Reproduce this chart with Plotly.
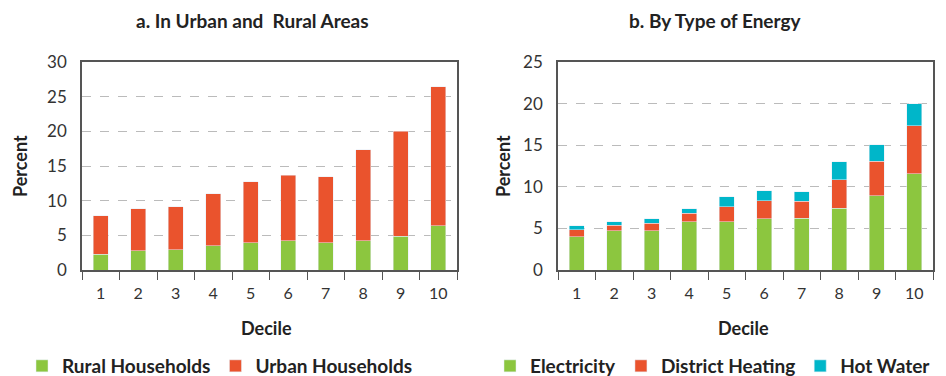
import plotly.graph_objects as go

deciles = ["1", "2", "3", "4", "5", "6", "7", "8", "9", "10"]

# panel a: urban / rural
rural = [2.3, 2.75, 2.9, 3.5, 3.9, 4.2, 3.9, 4.2, 4.9, 6.35]
urban = [5.5, 6.05, 6.2, 7.5, 8.8, 9.5, 9.55, 13.15, 15.1, 20.1]

# panel b: by type of energy
electricity = [4.0, 4.7, 4.7, 5.8, 5.8, 6.15, 6.25, 7.45, 8.9, 11.55]
district_heating = [0.85, 0.7, 0.9, 1.0, 1.8, 2.15, 2.0, 3.4, 4.2, 5.8]
hot_water = [0.45, 0.4, 0.55, 0.55, 1.2, 1.2, 1.15, 2.15, 1.95, 2.65]

GREEN = "#8CC63F"
RED = "#EA532D"
CYAN = "#00B6C9"
FONT = "Lato"

fig = go.Figure()

fig.add_trace(go.Bar(x=deciles, y=rural, name="<b>Rural Households</b>", marker_color=GREEN,
                     width=0.4, xaxis="x", yaxis="y", legend="legend"))
fig.add_trace(go.Bar(x=deciles, y=urban, name="<b>Urban Households</b>", marker_color=RED,
                     width=0.4, xaxis="x", yaxis="y", legend="legend"))

fig.add_trace(go.Bar(x=deciles, y=electricity, name="<b>Electricity</b>", marker_color=GREEN,
                     width=0.4, xaxis="x2", yaxis="y2", legend="legend2"))
fig.add_trace(go.Bar(x=deciles, y=district_heating, name="<b>District Heating</b>", marker_color=RED,
                     width=0.4, xaxis="x2", yaxis="y2", legend="legend2"))
fig.add_trace(go.Bar(x=deciles, y=hot_water, name="<b>Hot Water</b>", marker_color=CYAN,
                     width=0.4, xaxis="x2", yaxis="y2", legend="legend2"))

# the page body keeps its default 8px margin, so the figure is 8px smaller
OFF = 8
W, H = 946 - OFF, 376 - OFF

def px(x):
    return (x - OFF) / W

def py(y):
    return 1 - (y - OFF) / H

y_dom = [py(270), py(62)]

xaxis_common = dict(
    showline=True, linecolor="#555", linewidth=1.5, mirror=True,
    ticks="outside", tickson="boundaries", ticklen=8, tickcolor="#555",
    tickfont=dict(family=FONT, size=16, color="#333"),
    ticklabelstandoff=8,
    showgrid=False, automargin=False,
)
yaxis_common = dict(
    showline=True, linecolor="#555", linewidth=1.5, mirror=True,
    ticks="", tickfont=dict(family=FONT, size=17, color="#333"),
    ticklabelstandoff=10,
    showgrid=True, gridcolor="#bbbbbb", griddash="dash", gridwidth=1,
    zeroline=False, automargin=False,
)

def text(s, x, y, size=19, angle=0):
    return dict(text=s, x=px(x), y=py(y), xref="paper", yref="paper",
                xanchor="center", yanchor="middle", showarrow=False, textangle=angle,
                font=dict(family=FONT, size=size, color="#222"))

fig.update_layout(
    width=W, height=H,
    margin=dict(l=0, r=0, t=0, b=0, autoexpand=False),
    paper_bgcolor="white", plot_bgcolor="white",
    barmode="stack", bargap=0.6,
    font=dict(family=FONT, color="#222"),
    xaxis=dict(domain=[px(82), px(457)], anchor="y", **xaxis_common),
    yaxis=dict(domain=y_dom, anchor="x", range=[0, 30], dtick=5, **yaxis_common),
    xaxis2=dict(domain=[px(558), px(933)], anchor="y2", **xaxis_common),
    yaxis2=dict(domain=y_dom, anchor="x2", range=[0, 25], dtick=5, **yaxis_common),
    legend=dict(orientation="h", x=px(22), xanchor="left", y=py(366), yanchor="middle",
                font=dict(family=FONT, size=19, color="#222"), itemwidth=30,
                traceorder="normal", bgcolor="rgba(0,0,0,0)"),
    legend2=dict(orientation="h", x=px(490), xanchor="left", y=py(366), yanchor="middle",
                 font=dict(family=FONT, size=19, color="#222"), itemwidth=30,
                 traceorder="normal", bgcolor="rgba(0,0,0,0)"),
    annotations=[
        text("<b>a. In Urban and  Rural Areas</b>", 253, 20),
        text("<b>b. By Type of Energy</b>", 715, 20),
        text("<b>Percent</b>", 20, 166, size=18, angle=-90),
        text("<b>Percent</b>", 503, 166, size=18, angle=-90),
        text("<b>Decile</b>", 266, 328, size=18),
        text("<b>Decile</b>", 743, 328, size=18),
    ],
)

fig.write_html("out.html")
